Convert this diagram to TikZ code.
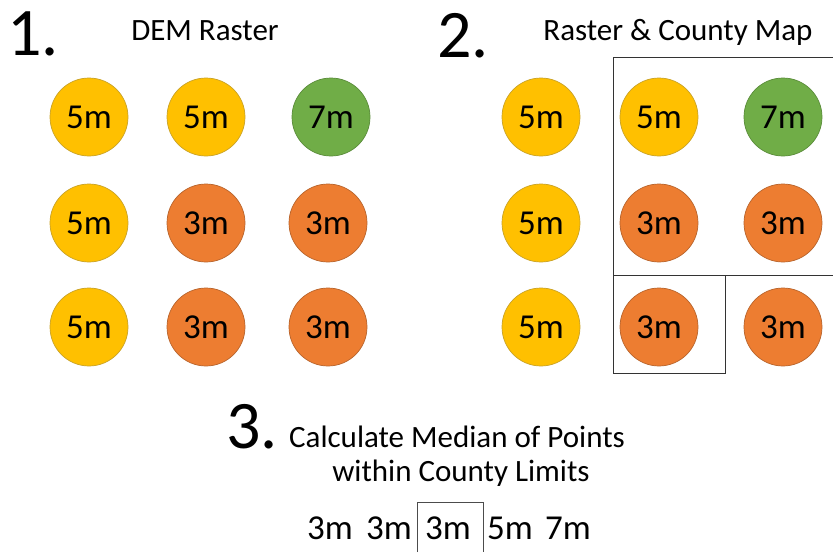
\documentclass[tikz,border=0pt]{standalone}
\usepackage{fontspec}
\setmainfont{Carlito}
\definecolor{gold}{HTML}{FFC000}
\definecolor{goldline}{HTML}{C9A227}
\definecolor{orng}{HTML}{ED7D31}
\definecolor{orngline}{HTML}{B8642C}
\definecolor{grn}{HTML}{70AD47}
\definecolor{grnline}{HTML}{5A8C3A}
\begin{document}
\begin{tikzpicture}[x=1pt,y=-1pt,
  dot/.style={circle,minimum size=78pt,inner sep=0pt,line width=0.7pt,
    font=\fontsize{35}{40}\selectfont},
  five/.style={dot,fill=gold,draw=goldline},
  three/.style={dot,fill=orng,draw=orngline},
  seven/.style={dot,fill=grn,draw=grnline},
  bignum/.style={anchor=base west,inner sep=0pt,font=\fontsize{68}{70}\selectfont},
  title/.style={anchor=base,inner sep=0pt,font=\fontsize{31}{36}\selectfont},
  val/.style={anchor=base,inner sep=0pt,font=\fontsize{35}{40}\selectfont},
  county/.style={line width=1pt,draw=black!80}]
\useasboundingbox (0,0) rectangle (833,552);
% Panel 1
\node[bignum] (n1) at (7,55) {1.};
\node[title] (t1) at (205,40) {DEM Raster};
\node[five]  (a11) at (89,117) {5m};
\node[five]  (a12) at (206,117) {5m};
\node[seven] (a13) at (331,117) {7m};
\node[five]  (a21) at (89,223) {5m};
\node[three] (a22) at (206,223) {3m};
\node[three] (a23) at (328,223) {3m};
\node[five]  (a31) at (89,327) {5m};
\node[three] (a32) at (206,327) {3m};
\node[three] (a33) at (328,327) {3m};
% Panel 2
\node[bignum] (n2) at (437,57) {2.};
\node[title] (t2) at (678,40) {Raster \& County Map};
\node[five]  (b11) at (541,117) {5m};
\node[five]  (b12) at (659,117) {\raisebox{-2pt}{5m}};
\node[seven] (b13) at (783,117) {7m};
\node[five]  (b21) at (541,223) {5m};
\node[three] (b22) at (659,223) {\raisebox{-2pt}{3m}};
\node[three] (b23) at (783,223) {3m};
\node[five]  (b31) at (541,327) {5m};
\node[three] (b32) at (659,327) {3m};
\node[three] (b33) at (783,327) {3m};
% County limits
\coordinate (k1) at (613,57);
\coordinate (k2) at (833,57);
\coordinate (k3) at (613,275);
\coordinate (k4) at (833,275);
\coordinate (k5) at (725,275);
\coordinate (k6) at (725,373);
\coordinate (k7) at (613,373);
\draw[county] (k2) -- (k1) -- (k7) -- (k6) -- (k5);
\draw[county] (k3) -- (k4);
% Panel 3
\node[bignum] (n3) at (226,448) {3.};
\node[title] (t3a) at (457,447) {Calculate Median of Points};
\node[title] (t3b) at (461,481) {within County Limits};
\node[val] (v1) at (330,539) {3m};
\node[val] (v2) at (389,539) {3m};
\node[val] (v3) at (448,539) {3m};
\node[val] (v4) at (510,539) {5m};
\node[val] (v5) at (568,539) {7m};
\coordinate (m1) at (417,552);
\coordinate (m2) at (417,502);
\coordinate (m3) at (483,502);
\coordinate (m4) at (483,552);
\draw[line width=1pt,draw=black!70] (m1) -- (m2) -- (m3) -- (m4);
\end{tikzpicture}
\end{document}
